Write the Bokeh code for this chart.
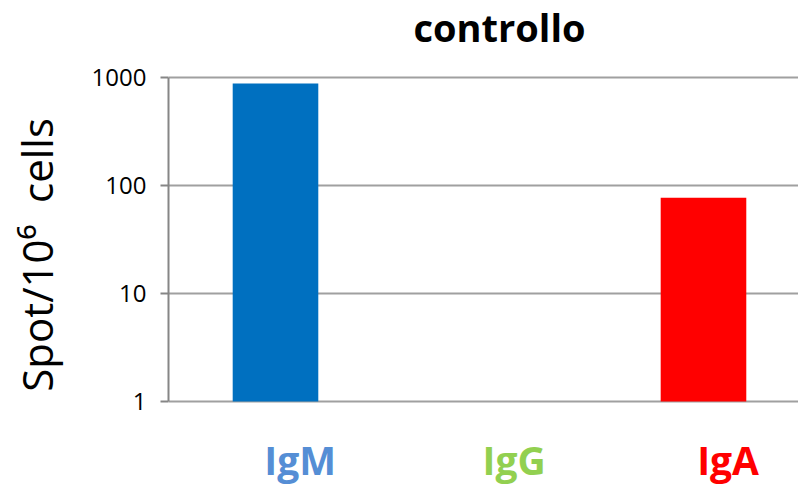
from bokeh.plotting import figure
from bokeh.models import Range1d, FixedTicker, Label
from bokeh.embed import file_html
from bokeh.resources import INLINE

# ---- data ----
categories = ["IgM", "IgG", "IgA"]
values = [880, 1, 77]          # IgG: no detectable spots (bar at baseline)
bar_colors = ["#0070C0", "#92D050", "#FF0000"]
label_colors = ["#558ED5", "#92D050", "#FF0000"]
y_ticks = [1, 10, 100, 1000]
y_tick_labels = ["1", "10", "100", "1000"]
title_text = "controllo"
y_label = "Spot/10\u2076\u00a0\u00a0cells\u00a0\u00a0"

FONT = "Open Sans"
W, H = 798, 487

xs = list(range(len(categories)))

# the frame fills the full height; the axis itself is bounded to 1..1000
p = figure(width=W, height=H, output_backend="svg", toolbar_location=None,
           y_axis_type="log",
           x_range=Range1d(-0.5, 2.444), y_range=Range1d(0.16, 5165),
           min_border_left=168, min_border_right=0,
           min_border_top=0, min_border_bottom=0)
p.outline_line_color = None
p.background_fill_color = "white"
p.border_fill_color = "white"

p.vbar(x=xs, top=values, bottom=y_ticks[0], width=0.40, fill_color=bar_colors,
       line_color=None)

# title
p.add_layout(Label(x=331, y=461, x_units="screen", y_units="screen",
                   text=title_text, text_font=FONT, text_font_size="38px",
                   text_font_style="bold", text_color="black",
                   text_align="center", text_baseline="alphabetic"))

# x axis hidden; category labels drawn as coloured labels
p.xaxis.visible = False
p.xgrid.visible = False
for i, (c, col) in enumerate(zip(categories, label_colors)):
    p.add_layout(Label(x=xs[i] + 0.115, y=28, x_units="data", y_units="screen",
                       text=c, text_color=col, text_font=FONT,
                       text_font_size="39px", text_font_style="bold",
                       text_align="center", text_baseline="alphabetic"))

# y axis
ax = p.yaxis[0]
ax.bounds = (y_ticks[0], y_ticks[-1])
ax.ticker = FixedTicker(ticks=y_ticks, minor_ticks=[])
ax.major_label_overrides = {t: l for t, l in zip(y_ticks, y_tick_labels)}
ax.major_label_text_font = FONT
ax.major_label_text_font_size = "24px"
ax.major_label_text_color = "#000000"
ax.major_label_standoff = 14
ax.axis_line_color = "#868686"
ax.axis_line_width = 2
ax.major_tick_line_color = "#868686"
ax.major_tick_line_width = 2
ax.major_tick_in = 0
ax.major_tick_out = 8
ax.minor_tick_line_color = None
ax.axis_label = y_label
ax.axis_label_text_font = FONT
ax.axis_label_text_font_size = "42px"
ax.axis_label_text_font_style = "normal"
ax.axis_label_text_color = "black"
ax.axis_label_standoff = 24

p.ygrid.grid_line_color = "#A0A0A0"
p.ygrid.grid_line_width = 2
p.ygrid.ticker = FixedTicker(ticks=y_ticks, minor_ticks=[])

open("out.html", "w").write(file_html(p, INLINE))
